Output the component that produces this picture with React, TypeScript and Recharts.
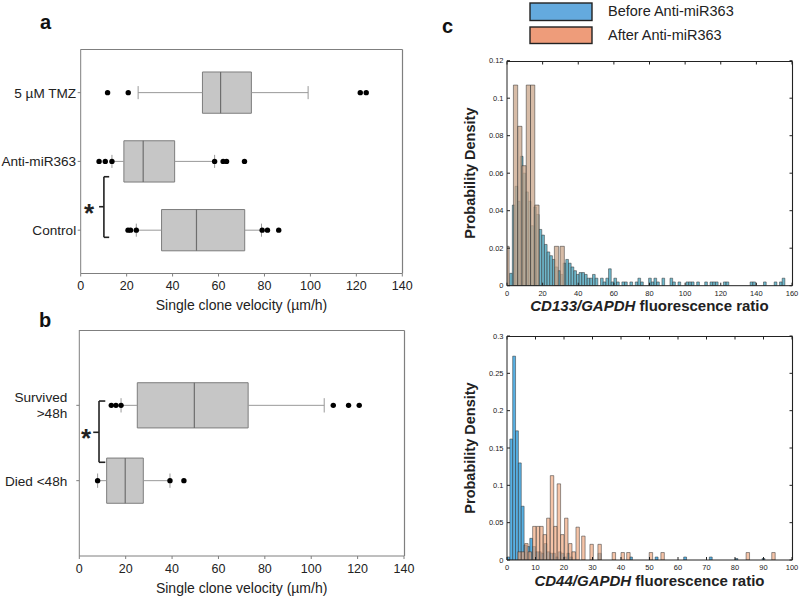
import React from 'react';
import { ComposedChart, XAxis, YAxis, ReferenceArea, ReferenceLine, Scatter } from 'recharts';

const FONT = "Arial, 'Liberation Sans', Helvetica, sans-serif";

// ---------------- Panel a : box plots ----------------
const categoriesA = ['Control', 'Anti-miR363', '5 µM TMZ'];
const positionsA = [1, 2, 3];
const q1A = [35.2, 18.8, 53.0];
const medianA = [50.4, 27.2, 60.9];
const q3A = [71.4, 40.9, 74.3];
const whiskerLowA = [24.2, 13.6, 25.0];
const whiskerHighA = [78.7, 58.3, 99.0];
const outliersA = [
  [20.6, 21.7, 24.2, 79.0, 81.3, 86.2],
  [8.0, 10.7, 13.6, 58.3, 62.0, 63.5, 71.3],
  [11.7, 20.7, 121.7, 124.3],
];

// ---------------- Panel b : box plots ----------------
const categoriesB = ['Died <48h', 'Survived\n>48h'];
const positionsB = [1, 2];
const q1B = [11.8, 25.0];
const medianB = [19.8, 49.6];
const q3B = [27.6, 72.8];
const whiskerLowB = [7.9, 18.0];
const whiskerHighB = [39.1, 105.6];
const outliersB = [
  [7.9, 39.1, 45.1],
  [13.8, 15.8, 18.0, 109.5, 116.1, 120.7],
];

const velocityTicks = [0, 20, 40, 60, 80, 100, 120, 140];

// ---------------- Panel c top : CD133 histogram ----------------
const cd133BeforeWidth = 1.5;
const cd133BeforeStart = [1.5, 3, 4.5, 6, 7.5, 9, 10.5, 12, 13.5, 15, 16.5, 18, 19.5, 21, 22.5, 24, 25.5, 27, 28.5, 30, 31.5, 33, 34.5, 36, 37.5, 39, 40.5, 42, 43.5, 45, 46.5, 48, 49.5, 52.5, 54, 55.5, 57, 58.5, 60, 61.5, 64.5, 66, 69, 72, 73.5, 75, 79.5, 81, 82.5, 84, 87, 91.5, 93, 96, 100.5, 102, 103.5, 106.5, 111, 114, 115.5, 117, 121.5, 123, 136.5, 138, 144, 150, 153, 154.5];
const cd133BeforeDensity = [0.0066, 0.043, 0.053, 0.045, 0.069, 0.06, 0.05, 0.045, 0.032, 0.042, 0.038, 0.03, 0.027, 0.022, 0.018, 0.016, 0.014, 0.01, 0.008, 0.006, 0.012, 0.014, 0.012, 0.01, 0.008, 0.006, 0.007, 0.007, 0.006, 0.004, 0.004, 0.006, 0.004, 0.004, 0.002, 0.004, 0.009, 0.002, 0.004, 0.002, 0.002, 0.002, 0.002, 0.002, 0.004, 0.002, 0.004, 0.002, 0.004, 0.002, 0.004, 0.004, 0.002, 0.002, 0.002, 0.002, 0.002, 0.002, 0.002, 0.002, 0.002, 0.002, 0.002, 0.002, 0.002, 0.002, 0.002, 0.002, 0.002, 0.004];
const cd133AfterWidth = 2.4;
const cd133AfterStart = [-1.2, 3.6, 6.0, 8.4, 10.8, 13.2, 15.6, 26.6, 29.8];
const cd133AfterDensity = [0.021, 0.107, 0.085, 0.064, 0.107, 0.107, 0.043, 0.021, 0.021];
const cd133XTicks = [0, 20, 40, 60, 80, 100, 120, 140, 160];
const cd133YTicks = [0, 0.02, 0.04, 0.06, 0.08, 0.1, 0.12];

// ---------------- Panel c bottom : CD44 histogram ----------------
const cd44BeforeWidth = 1;
const cd44BeforeStart = [0, 1, 2, 3, 4, 5, 6, 7, 8, 9, 10, 11, 12, 13, 14, 15, 16, 17, 18, 19, 20, 21, 22, 32, 43, 52, 62, 71, 80, 89.5];
const cd44BeforeDensity = [0.004, 0.162, 0.273, 0.173, 0.13, 0.072, 0.02, 0.018, 0.029, 0.018, 0.011, 0.011, 0.009, 0.022, 0.011, 0.009, 0.009, 0.004, 0.011, 0.009, 0.004, 0.009, 0.004, 0.009, 0.004, 0.004, 0.004, 0.004, 0.002, 0.002];
const cd44AfterWidth = 1.2;
const cd44AfterStart = [3.8, 5.0, 6.2, 7.4, 9.0, 10.3, 11.5, 12.7, 13.9, 15.2, 16.4, 17.6, 18.8, 20.2, 21.6, 22.8, 24.2, 26.2, 29.1, 31.9, 36.9, 40.0, 42.0, 49.9, 54.0, 83.9, 92.9];
const cd44AfterDensity = [0.011, 0.011, 0.022, 0.011, 0.045, 0.045, 0.045, 0.034, 0.056, 0.113, 0.045, 0.102, 0.034, 0.056, 0.022, 0.011, 0.044, 0.032, 0.021, 0.021, 0.01, 0.01, 0.01, 0.01, 0.01, 0.01, 0.01];
const cd44XTicks = [0, 10, 20, 30, 40, 50, 60, 70, 80, 90, 100];
const cd44YTicks = [0, 0.05, 0.1, 0.15, 0.2, 0.25, 0.3];

const legendLabels = ['Before Anti-miR363', 'After Anti-miR363'];

// ---------------- styles ----------------
const AXIS_GRAY = '#7f7f7f';
const BOX_HALF = 0.3;
const CAP_HALF = 0.095;
const INNER_TICK = 3;

type Bracket = { x: number; xEnd: number; xNub: number; yTop: number; yBottom: number; yMid: number };
const bracketA: Bracket = { x: 10.1, xEnd: 12.4, xNub: 8.0, yTop: 1.777, yBottom: 0.896, yMid: 1.341 };
const bracketB: Bracket = { x: 8.5, xEnd: 11.2, xNub: 6.0, yTop: 2.057, yBottom: 1.244, yMid: 1.642 };

const NoShape = () => <g />;
const snap = (v: number) => Math.round(v) + 0.5;

type Margin = { top: number; right: number; bottom: number; left: number };
function plotRect(width: number, height: number, m: Margin, yAxisWidth: number, xAxisHeight: number) {
  return {
    L: m.left + yAxisWidth,
    T: m.top,
    R: width - m.right,
    B: height - m.bottom - xAxisHeight,
  };
}

function makeCategoryTick(positions: number[], labels: string[]) {
  return (props: any) => {
    const { x, y, payload } = props;
    const idx = positions.indexOf(payload.value);
    const lines = (labels[idx] ?? '').split('\n');
    const lh = 16;
    return (
      <text x={x} y={y} textAnchor="end" fontSize={13.6} fill="#222" fontFamily={FONT}>
        {lines.map((ln, i) => (
          <tspan key={i} x={x} dy={i === 0 ? -((lines.length - 1) * lh) / 2 + 5 : lh}>
            {ln}
          </tspan>
        ))}
      </text>
    );
  };
}

type BoxPanelProps = {
  width: number;
  height: number;
  margin: Margin;
  yAxisWidth: number;
  xAxisHeight: number;
  yDomain: [number, number];
  positions: number[];
  labels: string[];
  q1: number[];
  med: number[];
  q3: number[];
  lo: number[];
  hi: number[];
  outliers: number[][];
  bracket: Bracket;
  labelMargin: number;
  titleOffset: number;
};

function BoxPanel(p: BoxPanelProps) {
  const points = p.outliers.flatMap((arr, i) => arr.map((v) => ({ x: v, y: p.positions[i] })));
  const b = p.bracket;
  const bracketStroke = '#222';
  const xMax = velocityTicks[velocityTicks.length - 1];
  const r = plotRect(p.width, p.height, p.margin, p.yAxisWidth, p.xAxisHeight);
  return (
    <div style={{ position: 'relative', width: p.width, height: p.height }}>
      <ComposedChart width={p.width} height={p.height} margin={p.margin}>
        <XAxis
          dataKey="x"
          type="number"
          domain={[0, xMax]}
          ticks={velocityTicks}
          stroke={AXIS_GRAY}
          tickSize={3}
          tickMargin={5}
          height={p.xAxisHeight}
          tick={{ fill: '#222', fontSize: 12.5, fontFamily: FONT }}
          label={(lp: any) => {
            const vb = lp.viewBox;
            return (
              <text x={vb.x + vb.width / 2} y={vb.y + p.titleOffset} textAnchor="middle" fontSize={14} fill="#222" fontFamily={FONT}>
                Single clone velocity (µm/h)
              </text>
            );
          }}
        />
        <YAxis
          dataKey="y"
          type="number"
          domain={p.yDomain}
          ticks={p.positions}
          tick={makeCategoryTick(p.positions, p.labels)}
          width={p.yAxisWidth}
          tickSize={3}
          tickMargin={p.labelMargin}
          stroke={AXIS_GRAY}
        />

        {p.positions.map((pos, i) => (
          <ReferenceLine key={`wl${i}`} segment={[{ x: p.lo[i], y: pos }, { x: p.q1[i], y: pos }]} stroke="#999" strokeWidth={1} />
        ))}
        {p.positions.map((pos, i) => (
          <ReferenceLine key={`wh${i}`} segment={[{ x: p.q3[i], y: pos }, { x: p.hi[i], y: pos }]} stroke="#999" strokeWidth={1} />
        ))}
        {p.positions.map((pos, i) => (
          <ReferenceLine key={`cl${i}`} segment={[{ x: p.lo[i], y: pos - CAP_HALF }, { x: p.lo[i], y: pos + CAP_HALF }]} stroke="#999" strokeWidth={1} />
        ))}
        {p.positions.map((pos, i) => (
          <ReferenceLine key={`ch${i}`} segment={[{ x: p.hi[i], y: pos - CAP_HALF }, { x: p.hi[i], y: pos + CAP_HALF }]} stroke="#999" strokeWidth={1} />
        ))}
        {p.positions.map((pos, i) => (
          <ReferenceArea key={`box${i}`} x1={p.q1[i]} x2={p.q3[i]} y1={pos - BOX_HALF} y2={pos + BOX_HALF} fill="#c6c6c6" fillOpacity={1} stroke="#7d7d7d" strokeWidth={1} />
        ))}
        {p.positions.map((pos, i) => (
          <ReferenceLine key={`md${i}`} segment={[{ x: p.med[i], y: pos - BOX_HALF }, { x: p.med[i], y: pos + BOX_HALF }]} stroke="#6e6e6e" strokeWidth={1.2} />
        ))}

        <ReferenceLine segment={[{ x: b.x, y: b.yBottom }, { x: b.x, y: b.yTop }]} stroke={bracketStroke} strokeWidth={1.6} />
        <ReferenceLine segment={[{ x: b.x, y: b.yTop }, { x: b.xEnd, y: b.yTop }]} stroke={bracketStroke} strokeWidth={1.6} />
        <ReferenceLine segment={[{ x: b.x, y: b.yBottom }, { x: b.xEnd, y: b.yBottom }]} stroke={bracketStroke} strokeWidth={1.6} />
        <ReferenceLine segment={[{ x: b.xNub, y: b.yMid }, { x: b.x, y: b.yMid }]} stroke={bracketStroke} strokeWidth={1.6} />

        <Scatter
          data={points}
          fill="#000"
          isAnimationActive={false}
          shape={(sp: any) => <circle cx={sp.cx} cy={sp.cy} r={2.7} fill="#000" />}
        />
      </ComposedChart>
      {/* frame: top and right edges of the plotting box */}
      <svg width={p.width} height={p.height} style={{ position: 'absolute', left: 0, top: 0, pointerEvents: 'none' }}>
        <line x1={r.L} y1={snap(r.T)} x2={snap(r.R)} y2={snap(r.T)} stroke={AXIS_GRAY} strokeWidth={1.2} />
        <line x1={snap(r.R)} y1={snap(r.T)} x2={snap(r.R)} y2={r.B} stroke={AXIS_GRAY} strokeWidth={1.2} />
      </svg>
    </div>
  );
}

type HistProps = {
  width: number;
  height: number;
  margin: Margin;
  yAxisWidth: number;
  xAxisHeight: number;
  xDomain: [number, number];
  xTicks: number[];
  yDomain: [number, number];
  yTicks: number[];
  beforeStart: number[];
  beforeDensity: number[];
  beforeWidth: number;
  afterStart: number[];
  afterDensity: number[];
  afterWidth: number;
  beforeFill: string;
  afterFill: string;
  beforeOpacity: number;
  afterOpacity: number;
  marker: string;
  titleOffset: number;
};

function Histogram(h: HistProps) {
  const edge = '#2f2f2f';
  const [x0, x1] = h.xDomain;
  const [y0, y1] = h.yDomain;
  const r = plotRect(h.width, h.height, h.margin, h.yAxisWidth, h.xAxisHeight);
  const fx = (t: number) => r.L + ((t - x0) / (x1 - x0)) * (r.R - r.L);
  const fy = (t: number) => r.B - ((t - y0) / (y1 - y0)) * (r.B - r.T);
  const anchors = [
    ...h.beforeStart.map((s, i) => ({ x: Math.max(s, x0), y: h.beforeDensity[i] })),
    ...h.afterStart.map((s, i) => ({ x: Math.max(s, x0), y: h.afterDensity[i] })),
  ];
  return (
    <div style={{ position: 'relative', width: h.width, height: h.height }}>
      <ComposedChart width={h.width} height={h.height} margin={h.margin}>
        <XAxis
          dataKey="x"
          type="number"
          domain={h.xDomain}
          ticks={h.xTicks}
          stroke="#222"
          tickSize={-3}
          tickMargin={7.5}
          height={h.xAxisHeight}
          allowDataOverflow
          tick={{ fill: '#222', fontSize: 7.5, fontFamily: FONT }}
          label={(lp: any) => {
            const vb = lp.viewBox;
            return (
              <text x={vb.x + vb.width / 2} y={vb.y + h.titleOffset} textAnchor="middle" fontSize={15} fontWeight="bold" fill="#222" fontFamily={FONT}>
                <tspan fontStyle="italic">{h.marker}</tspan>
                <tspan>{' fluorescence  ratio'}</tspan>
              </text>
            );
          }}
        />
        <YAxis
          dataKey="y"
          type="number"
          domain={h.yDomain}
          ticks={h.yTicks}
          stroke="#222"
          tickSize={-3}
          tickMargin={6.5}
          width={h.yAxisWidth}
          allowDataOverflow
          tick={{ fill: '#222', fontSize: 7.5, fontFamily: FONT }}
          label={(lp: any) => {
            const vb = lp.viewBox;
            const cx = vb.x + 50;
            const cy = vb.y + vb.height / 2;
            return (
              <text x={cx} y={cy} transform={`rotate(-90 ${cx} ${cy})`} textAnchor="middle" dominantBaseline="central" fontSize={14.5} fontWeight="bold" fill="#222" fontFamily={FONT}>
                Probability Density
              </text>
            );
          }}
        />

        {h.beforeStart.map((s, i) => (
          <ReferenceArea
            key={`b${i}`}
            x1={s}
            x2={s + h.beforeWidth}
            y1={0}
            y2={h.beforeDensity[i]}
            fill={h.beforeFill}
            fillOpacity={h.beforeOpacity}
            stroke={edge}
            strokeWidth={0.6}
            strokeOpacity={0.85}
            ifOverflow="hidden"
          />
        ))}
        {h.afterStart.map((s, i) => (
          <ReferenceArea
            key={`a${i}`}
            x1={s}
            x2={s + h.afterWidth}
            y1={0}
            y2={h.afterDensity[i]}
            fill={h.afterFill}
            fillOpacity={h.afterOpacity}
            stroke={edge}
            strokeWidth={0.6}
            strokeOpacity={0.85}
            ifOverflow="hidden"
          />
        ))}
        <Scatter data={anchors} isAnimationActive={false} shape={NoShape} />
      </ComposedChart>
      {/* box frame: top and right edges with inward ticks */}
      <svg width={h.width} height={h.height} style={{ position: 'absolute', left: 0, top: 0, pointerEvents: 'none' }}>
        <line x1={r.L} y1={snap(r.T)} x2={snap(r.R)} y2={snap(r.T)} stroke="#222" strokeWidth={1.1} />
        <line x1={snap(r.R)} y1={snap(r.T)} x2={snap(r.R)} y2={r.B} stroke="#222" strokeWidth={1.1} />
        {h.xTicks.map((t) => (
          <line key={`tt${t}`} x1={fx(t)} y1={snap(r.T)} x2={fx(t)} y2={snap(r.T) + INNER_TICK} stroke="#222" strokeWidth={1} />
        ))}
        {h.yTicks.map((t) => (
          <line key={`rt${t}`} x1={snap(r.R)} y1={fy(t)} x2={snap(r.R) - INNER_TICK} y2={fy(t)} stroke="#222" strokeWidth={1} />
        ))}
      </svg>
    </div>
  );
}

export default function App() {
  const abs = (left: number, top: number): React.CSSProperties => ({ position: 'absolute', left, top });
  const labelStyle: React.CSSProperties = { fontSize: 20, fontWeight: 'bold', fill: '#111', fontFamily: FONT };
  return (
    <div style={{ position: 'absolute', left: 0, top: 0, width: 800, height: 598, background: '#fff', overflow: 'hidden', fontFamily: FONT }}>
      {/* panel a */}
      <div style={abs(0, 0)}>
        <BoxPanel
          width={420}
          height={320}
          margin={{ top: 49.3, right: 17.7, bottom: 0, left: 0 }}
          yAxisWidth={80.7}
          xAxisHeight={46.5}
          yDomain={[0.37, 3.63]}
          positions={positionsA}
          labels={categoriesA}
          q1={q1A}
          med={medianA}
          q3={q3A}
          lo={whiskerLowA}
          hi={whiskerHighA}
          outliers={outliersA}
          bracket={bracketA}
          labelMargin={1.5}
          titleOffset={36.5}
        />
      </div>

      {/* panel b */}
      <div style={abs(0, 300)}>
        <BoxPanel
          width={420}
          height={298}
          margin={{ top: 30, right: 16, bottom: 0, left: 0 }}
          yAxisWidth={79.3}
          xAxisHeight={42}
          yDomain={[0, 3]}
          positions={positionsB}
          labels={categoriesB}
          q1={q1B}
          med={medianB}
          q3={q3B}
          lo={whiskerLowB}
          hi={whiskerHighB}
          outliers={outliersB}
          bracket={bracketB}
          labelMargin={9}
          titleOffset={37}
        />
      </div>

      {/* panel c top */}
      <div style={abs(420, 40)}>
        <Histogram
          width={380}
          height={290}
          margin={{ top: 20.7, right: 8, bottom: 0, left: 0 }}
          yAxisWidth={87}
          xAxisHeight={44.3}
          xDomain={[0, 160]}
          xTicks={cd133XTicks}
          yDomain={[0, 0.12]}
          yTicks={cd133YTicks}
          beforeStart={cd133BeforeStart}
          beforeDensity={cd133BeforeDensity}
          beforeWidth={cd133BeforeWidth}
          afterStart={cd133AfterStart}
          afterDensity={cd133AfterDensity}
          afterWidth={cd133AfterWidth}
          beforeFill="#5fb0c6"
          afterFill="#c9a68a"
          beforeOpacity={0.9}
          afterOpacity={0.75}
          marker="CD133/GAPDH"
          titleOffset={25}
        />
      </div>

      {/* panel c bottom */}
      <div style={abs(420, 320)}>
        <Histogram
          width={380}
          height={278}
          margin={{ top: 16, right: 8, bottom: 0, left: 0 }}
          yAxisWidth={87}
          xAxisHeight={38}
          xDomain={[0, 100]}
          xTicks={cd44XTicks}
          yDomain={[0, 0.3]}
          yTicks={cd44YTicks}
          beforeStart={cd44BeforeStart}
          beforeDensity={cd44BeforeDensity}
          beforeWidth={cd44BeforeWidth}
          afterStart={cd44AfterStart}
          afterDensity={cd44AfterDensity}
          afterWidth={cd44AfterWidth}
          beforeFill="#4aaae2"
          afterFill="#f0a479"
          beforeOpacity={0.92}
          afterOpacity={0.65}
          marker="CD44/GAPDH"
          titleOffset={25.5}
        />
      </div>

      {/* overlay: panel letters, legend, significance asterisks */}
      <svg width={800} height={598} style={{ ...abs(0, 0), pointerEvents: 'none' }}>
        <text x={40} y={29} style={labelStyle}>a</text>
        <text x={39} y={327} style={labelStyle}>b</text>
        <text x={442} y={33} style={labelStyle}>c</text>

        <rect x={530} y={3} width={62} height={17.5} fill="#64aade" stroke="#222" strokeWidth={1.4} />
        <rect x={530} y={27} width={62} height={16.5} fill="#ee9c7a" stroke="#222" strokeWidth={1.4} />
        <text x={608} y={16} fontSize={14.5} fill="#222" fontFamily={FONT}>{legendLabels[0]}</text>
        <text x={608} y={40} fontSize={14.5} fill="#222" fontFamily={FONT}>{legendLabels[1]}</text>

        <text x={89} y={222} textAnchor="middle" fontSize={26} fontWeight="bold" fill="#222" fontFamily={FONT}>*</text>
        <text x={86} y={447} textAnchor="middle" fontSize={26} fontWeight="bold" fill="#222" fontFamily={FONT}>*</text>
      </svg>
    </div>
  );
}
